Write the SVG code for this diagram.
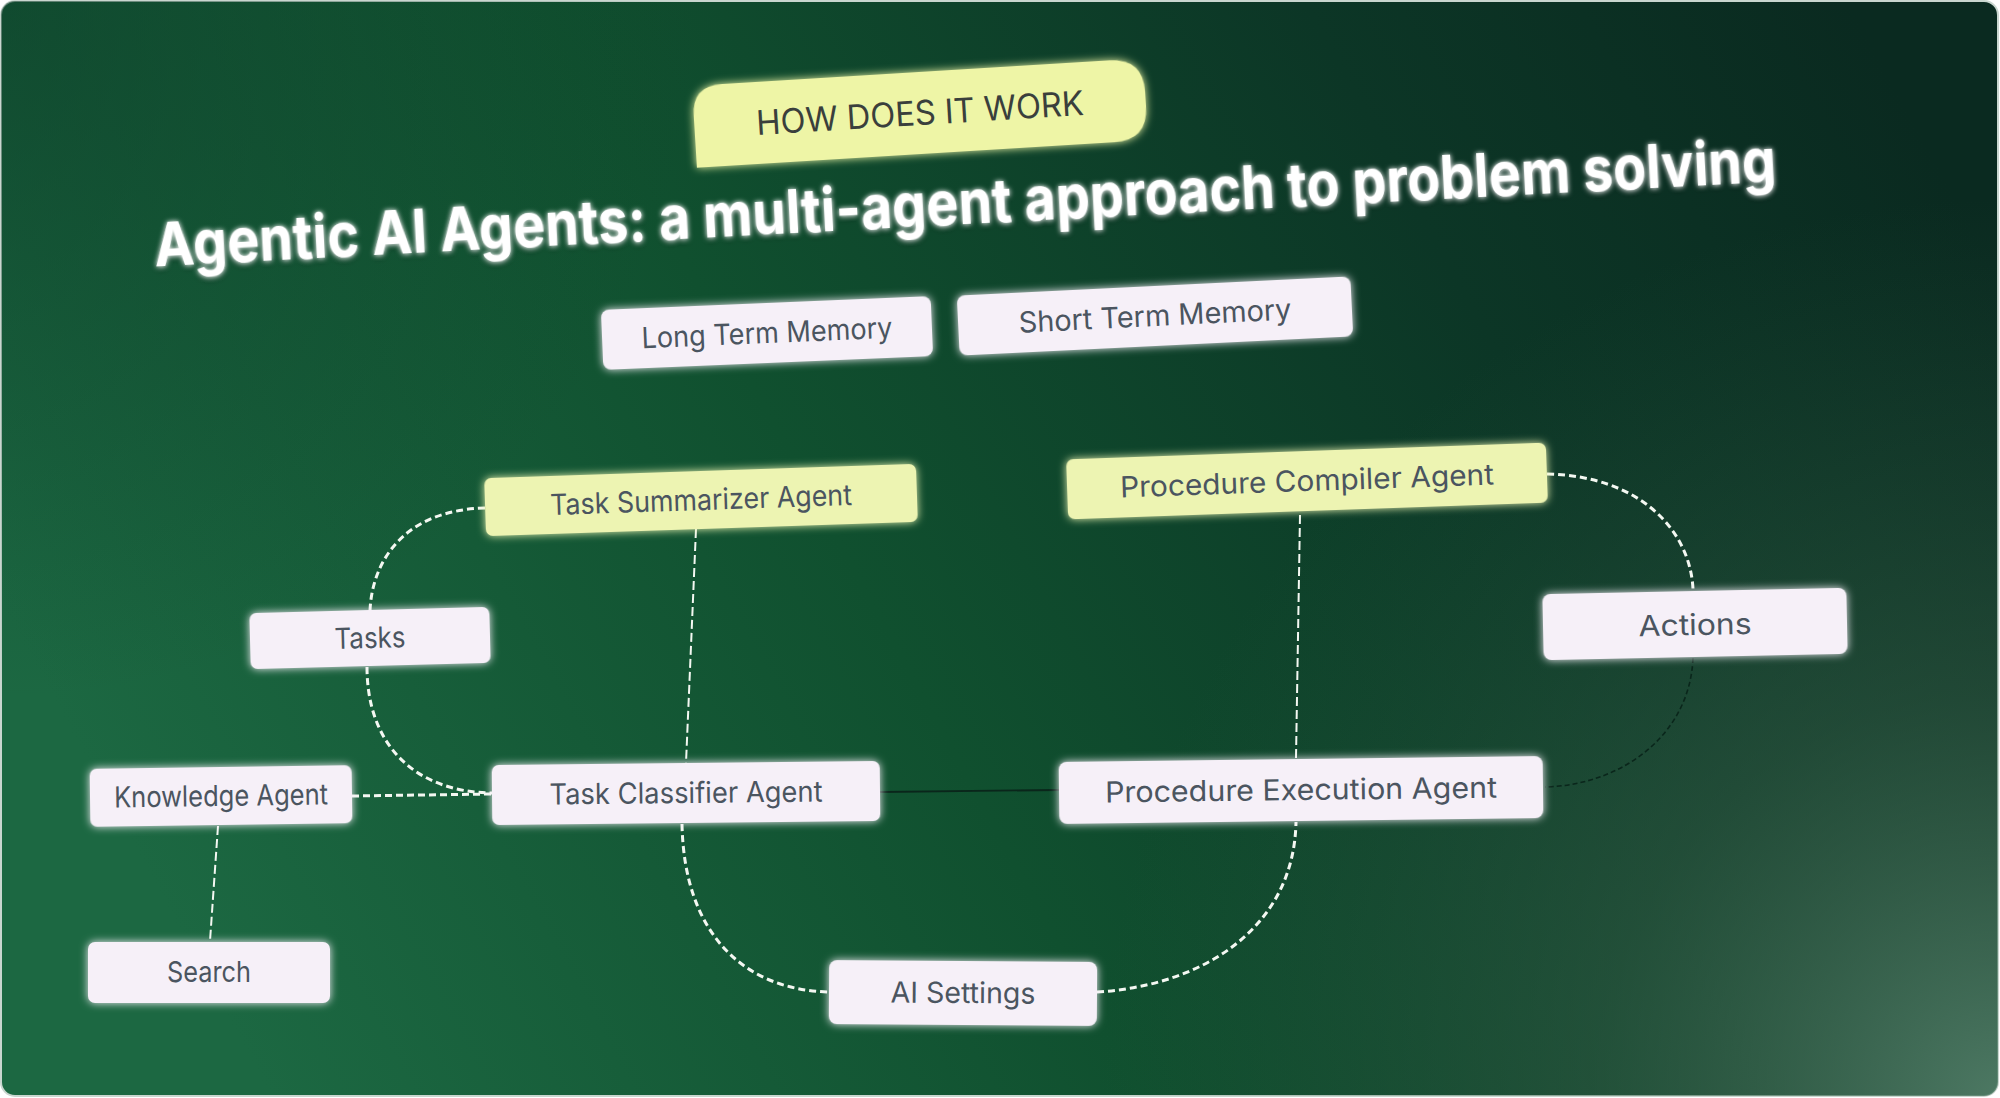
<svg xmlns="http://www.w3.org/2000/svg" width="2000" height="1098" viewBox="0 0 2000 1098">
  <defs>
    <linearGradient id="bg" x1="0" y1="0.55" x2="1" y2="0.25">
      <stop offset="0" stop-color="#1c6842"/>
      <stop offset="0.4" stop-color="#10502f"/>
      <stop offset="0.75" stop-color="#0c3626"/>
      <stop offset="1" stop-color="#0a2a20"/>
    </linearGradient>
    <radialGradient id="br" cx="2000" cy="1098" r="900" gradientUnits="userSpaceOnUse">
      <stop offset="0" stop-color="#54806a" stop-opacity="0.9"/>
      <stop offset="0.45" stop-color="#3b654c" stop-opacity="0.45"/>
      <stop offset="1" stop-color="#2a5a40" stop-opacity="0"/>
    </radialGradient>
    <radialGradient id="tl" cx="0" cy="0" r="700" gradientUnits="userSpaceOnUse">
      <stop offset="0" stop-color="#0c3d28" stop-opacity="0.6"/>
      <stop offset="1" stop-color="#0c3d28" stop-opacity="0"/>
    </radialGradient>
    <filter id="glow" x="-20%" y="-40%" width="140%" height="180%">
      <feGaussianBlur in="SourceGraphic" stdDeviation="4" result="b"/>
      <feMerge><feMergeNode in="b"/><feMergeNode in="SourceGraphic"/></feMerge>
    </filter>
    <filter id="tglow" x="-5%" y="-60%" width="110%" height="220%">
      <feGaussianBlur in="SourceAlpha" stdDeviation="3" result="s"/>
      <feOffset in="s" dx="0" dy="3" result="so"/>
      <feFlood flood-color="#000000" flood-opacity="0.45"/>
      <feComposite in2="so" operator="in" result="sh"/>
      <feGaussianBlur in="SourceGraphic" stdDeviation="2.5" result="g"/>
      <feMerge><feMergeNode in="sh"/><feMergeNode in="g"/><feMergeNode in="SourceGraphic"/></feMerge>
    </filter>
    <style>
      .box { fill: #f6f0f8; filter: url(#glow); }
      .ybox { fill: #edf4b2; filter: url(#glow); }
      .lbl { font-family: Inter, "Noto Sans", "Liberation Sans", sans-serif; font-size: 29px; fill: #4b5560; text-anchor: middle; }
      .dash { fill: none; stroke: #f4f8f2; stroke-width: 3; stroke-dasharray: 7 4; }
      .thin { fill: none; stroke: #f4f8f2; stroke-width: 2; stroke-dasharray: 9 4; }
      .dark { fill: none; stroke: #0a261b; stroke-width: 1.8; }
      .darkdash { fill: none; stroke: #0a261b; stroke-width: 1.6; stroke-dasharray: 5 3; }
    </style>
  </defs>

  <rect x="0" y="0" width="2000" height="1098" fill="#ffffff"/>
  <rect x="1" y="1" width="1997" height="1095" rx="14" fill="url(#bg)" stroke="#c9d6cf" stroke-width="2"/>
  <rect x="1" y="1" width="1997" height="1095" rx="14" fill="url(#tl)"/>
  <rect x="1" y="1" width="1997" height="1095" rx="14" fill="url(#br)"/>

  <g id="header" transform="translate(920,113) rotate(-3.5)">
    <path d="M -226,41 L -226,-11 Q -226,-41 -196,-41 L 192,-41 Q 226,-41 226,-7 L 226,7 Q 226,41 192,41 Z" fill="#eef5a6" filter="url(#glow)"/>
    <text x="0" y="12" font-family="Inter, 'Noto Sans', 'Liberation Sans', sans-serif" font-size="34" fill="#3a3f3c" text-anchor="middle" textLength="328" lengthAdjust="spacingAndGlyphs">HOW DOES IT WORK</text>
  </g>

  <g id="title" transform="translate(966,224) rotate(-3)">
    <text x="0" y="0" font-family="Inter, 'Liberation Sans', sans-serif" font-weight="700" font-size="61" fill="#ffffff" text-anchor="middle" textLength="1624" lengthAdjust="spacingAndGlyphs" filter="url(#tglow)">Agentic AI Agents: a multi-agent approach to problem solving</text>
  </g>

  <g id="connectors">
    <path class="dash" d="M 485,508 C 405,510 372,560 370,611"/>
    <path class="dash" d="M 367,667 C 367,745 415,792 492,793"/>
    <path class="dash" d="M 352,796 L 492,794"/>
    <path class="thin" d="M 218,826 L 210,941"/>
    <path class="thin" d="M 696,529 L 686,763"/>
    <path class="dark" d="M 880,792 L 1059,790"/>
    <path class="dash" d="M 682,824 C 684,935 745,990 829,992"/>
    <path class="dash" d="M 1097,992 C 1200,986 1294,930 1296,822"/>
    <path class="thin" d="M 1300,515 L 1296,758"/>
    <path class="dash" d="M 1547,474 C 1640,476 1690,530 1693,589"/>
    <path class="darkdash" d="M 1693,658 C 1690,735 1622,785 1545,787"/>
  </g>

  <g id="long-term-memory" transform="translate(767,333) rotate(-2.4)">
    <rect class="box" x="-165" y="-30" width="330" height="60" rx="8"/>
    <text class="lbl" x="0" y="10" textLength="251" lengthAdjust="spacingAndGlyphs">Long Term Memory</text>
  </g>
  <g id="short-term-memory" transform="translate(1155,316) rotate(-2.8)">
    <rect class="box" x="-197" y="-30" width="394" height="60" rx="8"/>
    <text class="lbl" x="0" y="10" textLength="273" lengthAdjust="spacingAndGlyphs">Short Term Memory</text>
  </g>
  <g id="task-summarizer-agent" transform="translate(701,500) rotate(-1.9)">
    <rect class="ybox" x="-216" y="-29" width="432" height="58" rx="7"/>
    <text class="lbl" x="0" y="10" textLength="302" lengthAdjust="spacingAndGlyphs">Task Summarizer Agent</text>
  </g>
  <g id="procedure-compiler-agent" transform="translate(1307,481) rotate(-2)">
    <rect class="ybox" x="-240" y="-30" width="480" height="60" rx="7"/>
    <text class="lbl" x="0" y="10" textLength="374" lengthAdjust="spacingAndGlyphs">Procedure Compiler Agent</text>
  </g>
  <g id="tasks" transform="translate(370,638) rotate(-1.5)">
    <rect class="box" x="-120" y="-28" width="240" height="56" rx="7"/>
    <text class="lbl" x="0" y="10" textLength="71" lengthAdjust="spacingAndGlyphs">Tasks</text>
  </g>
  <g id="actions" transform="translate(1695,624) rotate(-1.2)">
    <rect class="box" x="-152" y="-33" width="304" height="66" rx="8"/>
    <text class="lbl" x="0" y="11" font-size="32" textLength="113" lengthAdjust="spacingAndGlyphs">Actions</text>
  </g>
  <g id="knowledge-agent" transform="translate(221,796) rotate(-0.8)">
    <rect class="box" x="-131" y="-29" width="262" height="58" rx="7"/>
    <text class="lbl" x="0" y="10" textLength="214" lengthAdjust="spacingAndGlyphs">Knowledge Agent</text>
  </g>
  <g id="task-classifier-agent" transform="translate(686,793) rotate(-0.6)">
    <rect class="box" x="-194" y="-30" width="388" height="60" rx="7"/>
    <text class="lbl" x="0" y="10" textLength="273" lengthAdjust="spacingAndGlyphs">Task Classifier Agent</text>
  </g>
  <g id="procedure-execution-agent" transform="translate(1301,790) rotate(-0.7)">
    <rect class="box" x="-242" y="-31" width="484" height="62" rx="8"/>
    <text class="lbl" x="0" y="10" textLength="392" lengthAdjust="spacingAndGlyphs">Procedure Execution Agent</text>
  </g>
  <g id="search" transform="translate(209,972)">
    <rect class="box" x="-121" y="-30" width="242" height="61" rx="7"/>
    <text class="lbl" x="0" y="10" textLength="84" lengthAdjust="spacingAndGlyphs">Search</text>
  </g>
  <g id="ai-settings" transform="translate(963,993) rotate(0.4)">
    <rect class="box" x="-134" y="-32" width="268" height="64" rx="8"/>
    <text class="lbl" x="0" y="10" textLength="145" lengthAdjust="spacingAndGlyphs">AI Settings</text>
  </g>
</svg>
